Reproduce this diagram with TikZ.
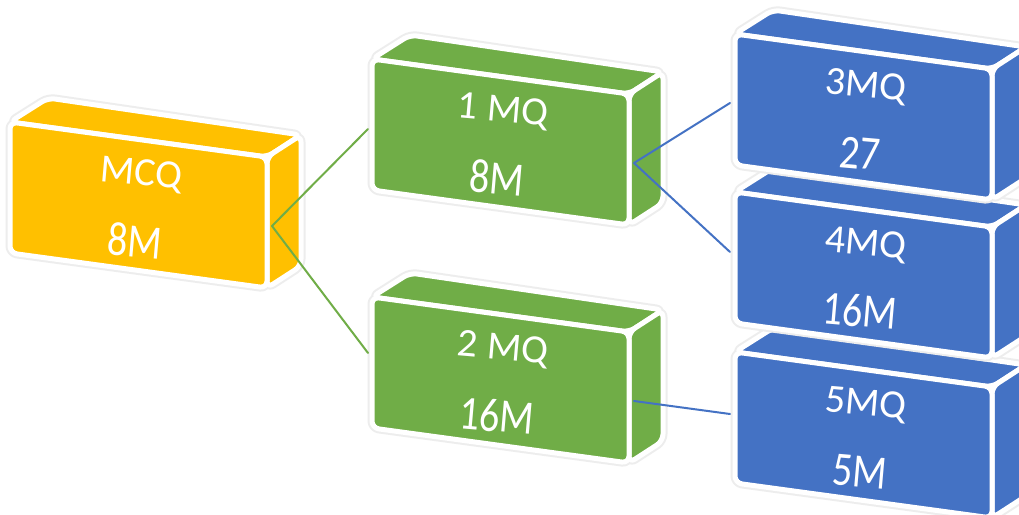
\documentclass[tikz,border=0pt]{standalone}
\usepackage{fontspec}
\usepackage{graphicx}
\setmainfont{Carlito}
\definecolor{cyellow}{HTML}{FFC000}
\definecolor{cgreen}{HTML}{70AD47}
\definecolor{cblue}{HTML}{4472C4}
\tikzset{
  glowface/.style={draw=black!7, line width=9bp, rounded corners=7bp, line join=round},
  boxface/.style={draw=white, line width=5bp, rounded corners=7bp, line join=round},
  boxtext/.style={text=white, inner sep=0pt, rotate=-5, align=center,
    font=\fontsize{40bp}{72bp}\selectfont},
  link/.style={line width=2bp, line cap=round}
}
\newcommand{\cubebox}[6]{%
  \begin{scope}[shift={(#2,#3)}]
    \path[glowface] (0,0) -- (257,35) -- (291,13) -- (38,-24) -- cycle;
    \path[glowface] (257,35) -- (257,166) -- (291,144) -- (291,13) -- cycle;
    \path[glowface] (0,0) -- (257,35) -- (257,166) -- (0,131) -- cycle;
    \path[boxface, fill=#4] (0,0) -- (257,35) -- (291,13) -- (38,-24) -- cycle;
    \path[boxface, fill=#4] (257,35) -- (257,166) -- (291,144) -- (291,13) -- cycle;
    \path[boxface, fill=#4] (0,0) -- (257,35) -- (257,166) -- (0,131) -- cycle;
    \node[boxtext] (#1) at (128,86) {#5\\\scalebox{1}[1.2]{#6}};
    \coordinate (#1-out) at (262,104);
  \end{scope}}
\begin{document}
\begin{tikzpicture}[x=1bp, y=-1bp]
  \clip (0,0) rectangle (1019,515);
  \fill[white] (0,0) rectangle (1019,515);
  % boxes
  \cubebox{mcq}{10}{122}{cyellow}{MCQ}{8M}
  \cubebox{q1}{372}{59}{cgreen}{1 MQ}{8M}
  \cubebox{q2}{372}{297}{cgreen}{2 MQ}{16M}
  \cubebox{q5}{735}{352}{cblue}{5MQ}{5M}
  \cubebox{q4}{735}{192}{cblue}{4MQ}{16M}
  \cubebox{q3}{735}{34}{cblue}{3MQ}{27}
  % connector ends
  \coordinate (q1-in) at (368,129);
  \coordinate (q2-in) at (368,353);
  \coordinate (q3-in) at (730,103);
  \coordinate (q4-in) at (730,252);
  \coordinate (q5-in) at (730,414);
  % connectors
  \draw[link, cgreen] (mcq-out) -- (q1-in);
  \draw[link, cgreen] (mcq-out) -- (q2-in);
  \draw[link, cblue] (q1-out) -- (q3-in);
  \draw[link, cblue] (q1-out) -- (q4-in);
  \draw[link, cblue] (q2-out) -- (q5-in);
\end{tikzpicture}
\end{document}
